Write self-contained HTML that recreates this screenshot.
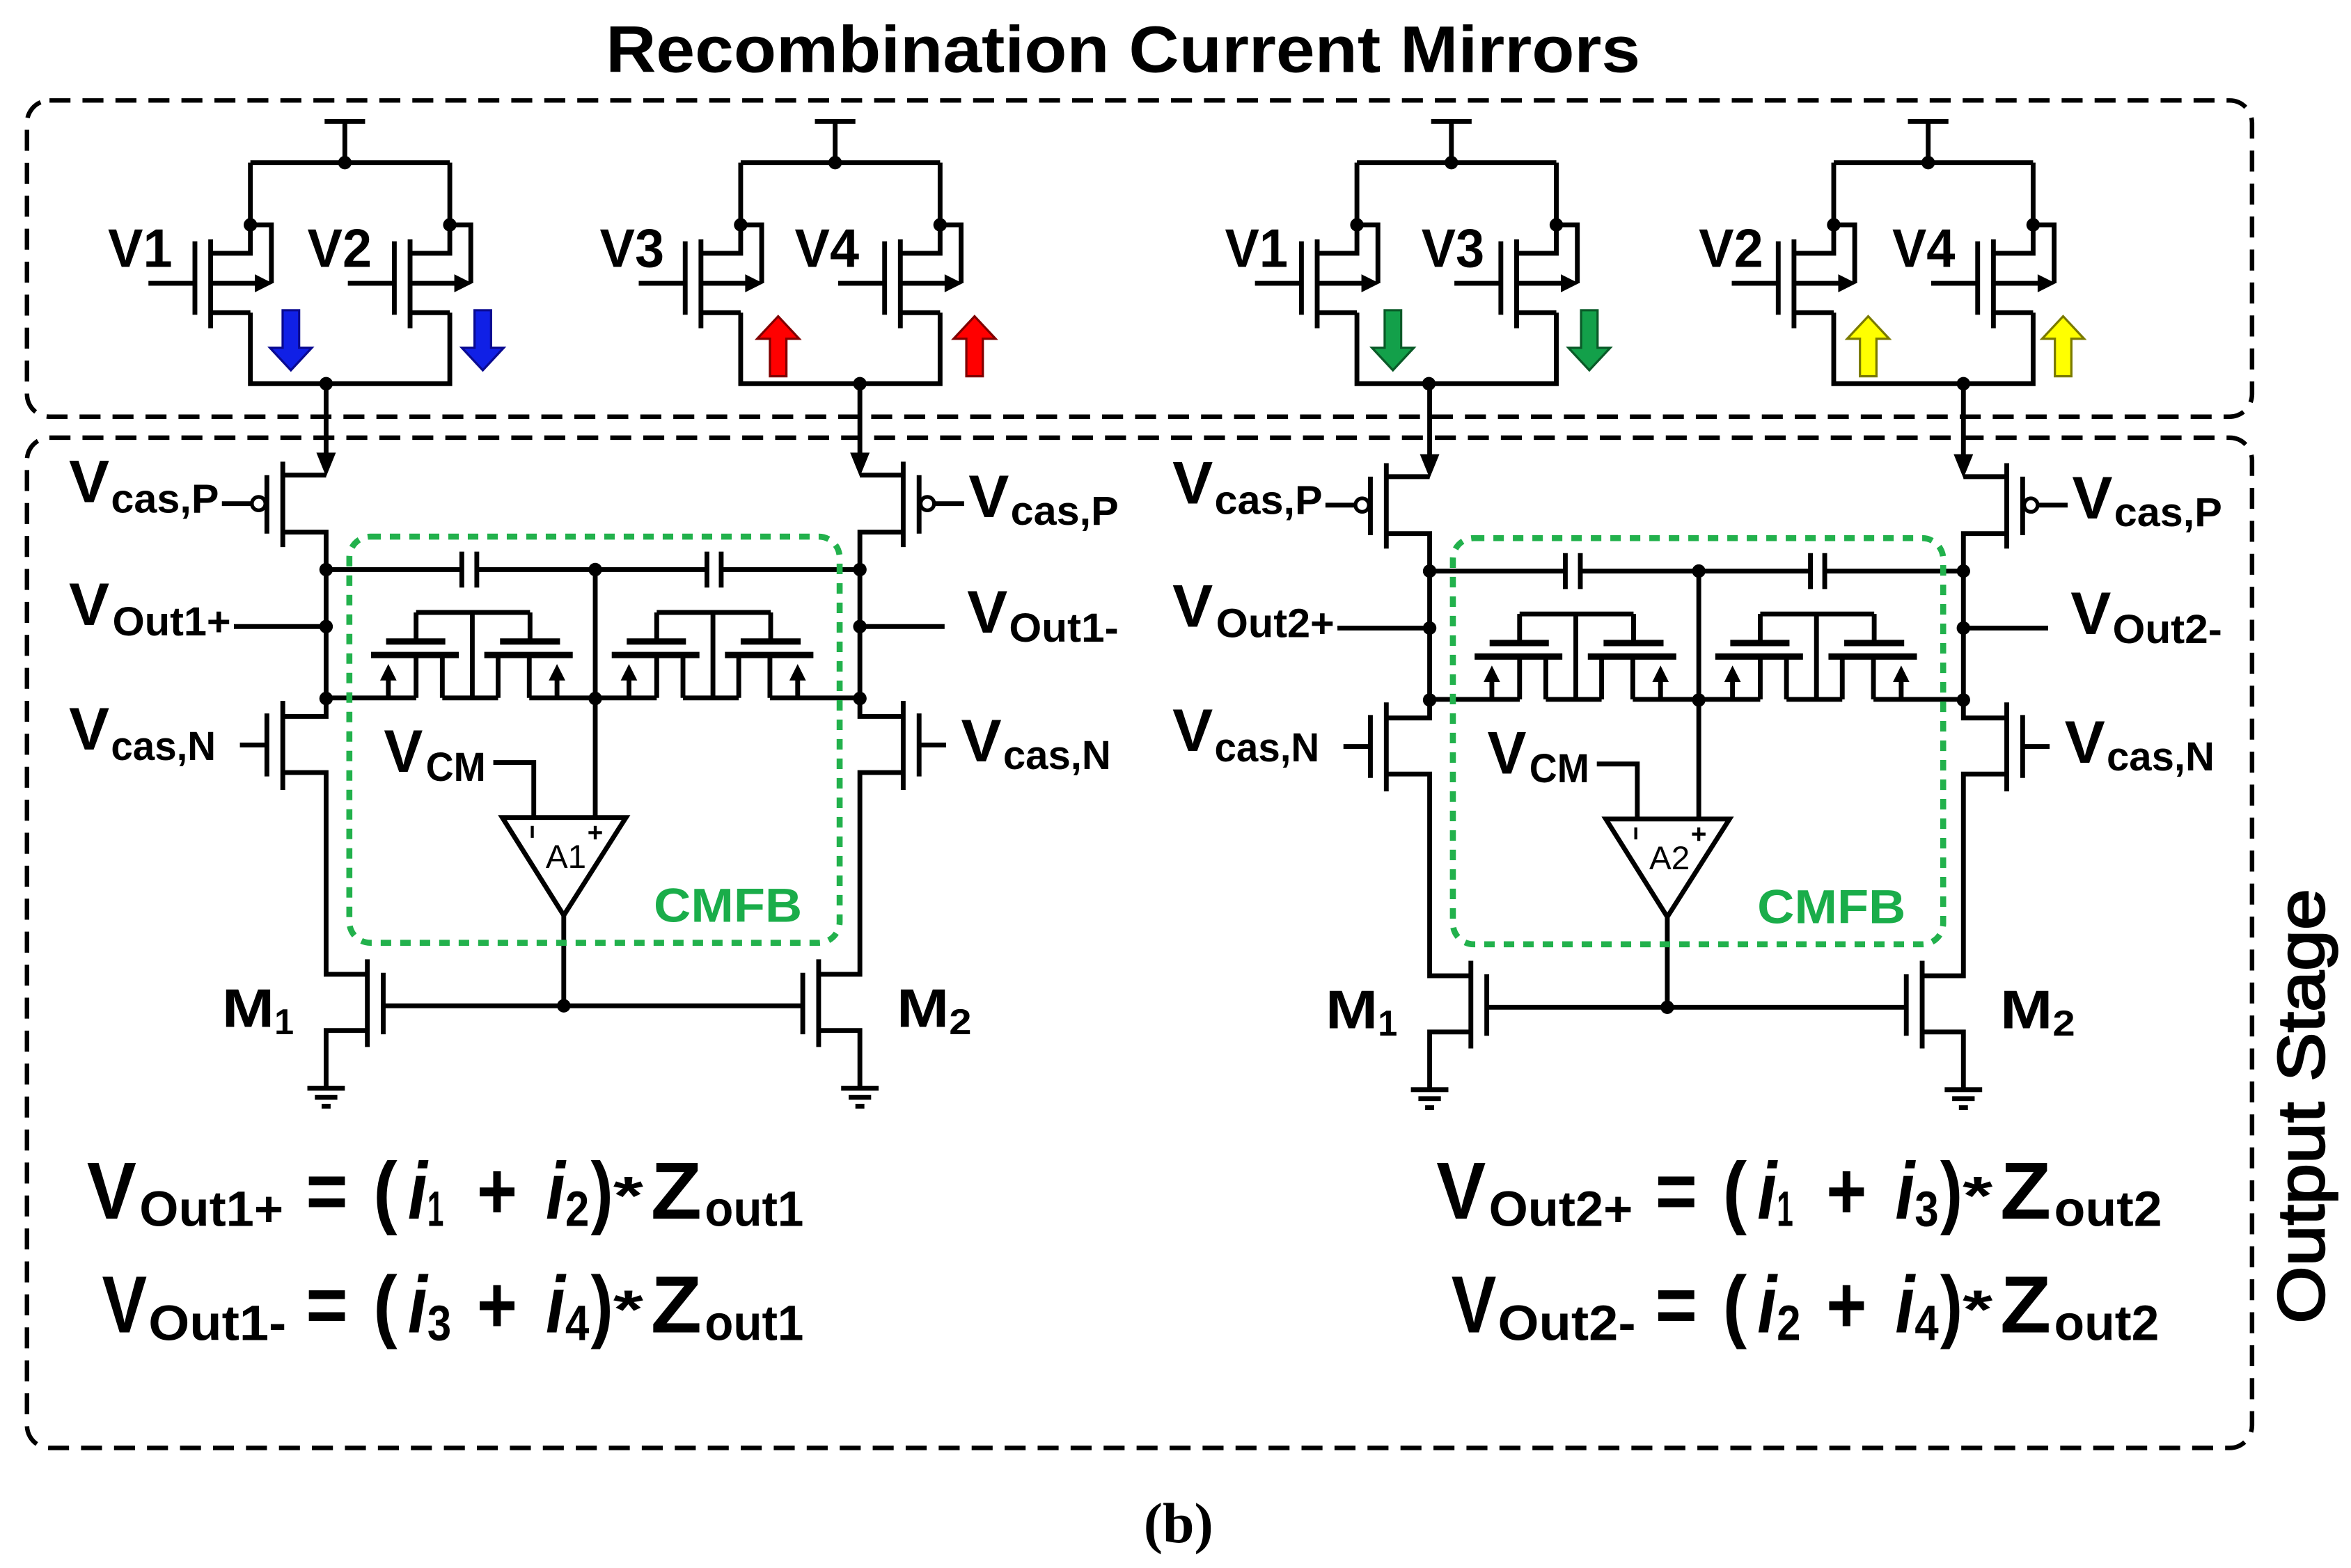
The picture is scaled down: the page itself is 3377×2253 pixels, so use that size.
<!DOCTYPE html>
<html><head><meta charset="utf-8"><style>
html,body{margin:0;padding:0;background:#fff;}
svg{display:block;}
text{font-family:"Liberation Sans",sans-serif;font-weight:bold;fill:#000;}
</style></head><body>
<svg xmlns="http://www.w3.org/2000/svg" width="3377" height="2253" viewBox="0 0 1568 1046.1" preserveAspectRatio="none">
<defs>
<g id="tr">
 <path d="M0,150 V169 H-26.5 M-26.5,159.7 V219 M-37,161 V210 M-68,189 H-37 M-26.5,208.6 H0 M0,150 H14 V189 M-26.5,189 H4" fill="none" stroke="#000" stroke-width="3.2"/>
 <polygon points="15,189 3,183 3,195" fill="#000"/>
 <circle cx="0" cy="150" r="4.5" fill="#000"/>
</g>
<g id="mir">
 <path d="M0,108.5 H133 M0,108.5 V150 M133,108.5 V150 M0,208.6 V256 H133 V208.6 M63,108.5 V81 M49.5,81 H76.5" fill="none" stroke="#000" stroke-width="3.2"/>
 <use href="#tr"/>
 <use href="#tr" transform="translate(133,0)"/>
 <circle cx="63" cy="108.5" r="4.5" fill="#000"/>
</g>
<polygon id="adn" points="-5.5,207 5.5,207 5.5,232 14,232 0,247 -14,232 -5.5,232" stroke-width="1.5"/>
<polygon id="aup" points="-5.5,251 5.5,251 5.5,226 14,226 0,211 -14,226 -5.5,226" stroke-width="1.5"/>
<g id="col">
 <path d="M217.5,256 V305 M217.5,317 H188.6 M188.6,308 V365 M178,317 V356 M148,336 H168 M188.6,355 H217.5 V478 H188.6 M188.6,467.6 V527 M178,476 V518 M160,497 H178 M188.6,515.4 H217.5 V650 H245 M245,640 V698.5 M255.6,649 V690 M245,687.5 H217.5 V726 M205,726 H230 M210,732 H225 M214.5,738 H220.5" fill="none" stroke="#000" stroke-width="3.2"/>
 <polygon points="217.5,318 211,302 224,302" fill="#000"/>
 <circle cx="172.5" cy="336" r="4.5" fill="#fff" stroke="#000" stroke-width="2.5"/>
 <circle cx="217.5" cy="380" r="4.5"/><circle cx="217.5" cy="418" r="4.5"/><circle cx="217.5" cy="466" r="4.5"/>
</g>
<g id="pair">
 <path d="M30,408.6 H106 M67.5,408.6 V465.6 M30,408.6 V428 M106,408.6 V428 M30,437 V465.6 M47.5,437 V465.6 M84.7,437 V465.6 M105.5,437 V465.6 M47.5,465.6 H84.7 M11.5,465.6 V452 M124,465.6 V452" fill="none" stroke="#000" stroke-width="3.2"/>
 <path d="M10,428 H49.5 M86,428 H126 M0,437 H58.5 M75.5,437 H134.5" fill="none" stroke="#000" stroke-width="4.2"/>
 <polygon points="11.5,443 6,454 17,454" fill="#000"/>
 <polygon points="124,443 118.5,454 129.5,454" fill="#000"/>
</g>
<g id="stage">
 <use href="#col"/>
 <use href="#col" transform="translate(791,0) scale(-1,1)"/>
 <path d="M255.6,671 H535.4 M217.5,380 H308 M318,380 H471.5 M481,380 H573.5 M308,368 V392 M318,368 V392 M471.5,368 V392 M481,368 V392 M156,418 H217.5 M573.5,418 H630 M397,380 V545.4 M329,508.7 H356 V545.4 M376,610.7 V671 M217.5,465.6 H277.6 M353,465.6 H438 M513.5,465.6 H573.5" fill="none" stroke="#000" stroke-width="3.2"/>
 <use href="#pair" transform="translate(247.5,0)"/>
 <use href="#pair" transform="translate(408,0)"/>
 <polygon points="335,545.4 417.5,545.4 376,610.7" fill="#fff" stroke="#000" stroke-width="3.2"/>
 <path d="M355,551 V559 M397,551 V560 M392.5,555.5 H401.5" stroke="#000" stroke-width="2"/>
 <circle cx="397" cy="380" r="4.5"/><circle cx="397" cy="466" r="4.5"/><circle cx="376" cy="671" r="4.5"/>
 <rect x="233" y="358" width="327" height="271" rx="14" fill="none" stroke="#22b14c" stroke-width="4" stroke-dasharray="7 6"/>
</g>
</defs>

<!-- boxes -->
<rect x="18" y="67" width="1484" height="211" rx="15" fill="none" stroke="#000" stroke-width="3" stroke-dasharray="14 8"/>
<rect x="18" y="292" width="1484" height="674" rx="15" fill="none" stroke="#000" stroke-width="3" stroke-dasharray="14 8"/>

<text x="404" y="48" font-size="44" textLength="690" lengthAdjust="spacingAndGlyphs">Recombination Current Mirrors</text>

<!-- mirrors -->
<use href="#mir" transform="translate(167,0)"/>
<use href="#mir" transform="translate(494,0)"/>
<use href="#mir" transform="translate(905,0)"/>
<use href="#mir" transform="translate(1223,0)"/>
<circle cx="217.5" cy="256" r="4.5"/><circle cx="573.5" cy="256" r="4.5"/>
<circle cx="953" cy="256" r="4.5"/><circle cx="1309.5" cy="256" r="4.5"/>

<use href="#adn" transform="translate(194,0)" fill="#1020e6" stroke="#0a0a90"/>
<use href="#adn" transform="translate(322,0)" fill="#1020e6" stroke="#0a0a90"/>
<use href="#aup" transform="translate(519,0)" fill="#ff0000" stroke="#800000"/>
<use href="#aup" transform="translate(650,0)" fill="#ff0000" stroke="#800000"/>
<use href="#adn" transform="translate(929,0)" fill="#13a04a" stroke="#0a5a28"/>
<use href="#adn" transform="translate(1060,0)" fill="#13a04a" stroke="#0a5a28"/>
<use href="#aup" transform="translate(1246,0)" fill="#ffff00" stroke="#7a7a00"/>
<use href="#aup" transform="translate(1376,0)" fill="#ffff00" stroke="#7a7a00"/>

<g font-size="36">
<text x="72" y="178" textLength="43" lengthAdjust="spacingAndGlyphs">V1</text>
<text x="205" y="178" textLength="43" lengthAdjust="spacingAndGlyphs">V2</text>
<text x="400" y="178" textLength="43" lengthAdjust="spacingAndGlyphs">V3</text>
<text x="530" y="178" textLength="43" lengthAdjust="spacingAndGlyphs">V4</text>
<text x="817" y="178" textLength="42" lengthAdjust="spacingAndGlyphs">V1</text>
<text x="948" y="178" textLength="42" lengthAdjust="spacingAndGlyphs">V3</text>
<text x="1133" y="178" textLength="43" lengthAdjust="spacingAndGlyphs">V2</text>
<text x="1262" y="178" textLength="42" lengthAdjust="spacingAndGlyphs">V4</text>
</g>

<!-- stages -->
<use href="#stage"/>
<use href="#stage" transform="translate(736,1)"/>

<!-- stage 1 labels -->
<g>
<text x="46" y="335" font-size="40" textLength="27" lengthAdjust="spacingAndGlyphs">V</text>
<text x="74" y="342" font-size="27" textLength="72" lengthAdjust="spacingAndGlyphs">cas,P</text>
<text x="46" y="417" font-size="40" textLength="27" lengthAdjust="spacingAndGlyphs">V</text>
<text x="75" y="424" font-size="27" textLength="79" lengthAdjust="spacingAndGlyphs">Out1+</text>
<text x="46" y="500" font-size="40" textLength="27" lengthAdjust="spacingAndGlyphs">V</text>
<text x="74" y="507" font-size="27" textLength="70" lengthAdjust="spacingAndGlyphs">cas,N</text>
<text x="256" y="515" font-size="40" textLength="26" lengthAdjust="spacingAndGlyphs">V</text>
<text x="284" y="521" font-size="27" textLength="40" lengthAdjust="spacingAndGlyphs">CM</text>
<text x="646" y="345" font-size="40" textLength="27" lengthAdjust="spacingAndGlyphs">V</text>
<text x="674" y="350" font-size="27" textLength="72" lengthAdjust="spacingAndGlyphs">cas,P</text>
<text x="645" y="422" font-size="40" textLength="27" lengthAdjust="spacingAndGlyphs">V</text>
<text x="673" y="428" font-size="27" textLength="73" lengthAdjust="spacingAndGlyphs">Out1-</text>
<text x="641" y="508" font-size="40" textLength="27" lengthAdjust="spacingAndGlyphs">V</text>
<text x="669" y="513" font-size="27" textLength="72" lengthAdjust="spacingAndGlyphs">cas,N</text>
<text x="148" y="685" font-size="36" textLength="35" lengthAdjust="spacingAndGlyphs">M</text>
<text x="183" y="690" font-size="24" textLength="13" lengthAdjust="spacingAndGlyphs">1</text>
<text x="598" y="685" font-size="36" textLength="35" lengthAdjust="spacingAndGlyphs">M</text>
<text x="633" y="690" font-size="24" textLength="15" lengthAdjust="spacingAndGlyphs">2</text>
<text x="436" y="615" font-size="32" textLength="99" lengthAdjust="spacingAndGlyphs" style="fill:#1aad4a">CMFB</text>
<text x="364" y="579" font-size="22" textLength="27" lengthAdjust="spacingAndGlyphs" style="font-weight:normal">A1</text>
</g>
<!-- stage 2 labels -->
<g transform="translate(736,1)">
<text x="46" y="335" font-size="40" textLength="27" lengthAdjust="spacingAndGlyphs">V</text>
<text x="74" y="342" font-size="27" textLength="72" lengthAdjust="spacingAndGlyphs">cas,P</text>
<text x="46" y="417" font-size="40" textLength="27" lengthAdjust="spacingAndGlyphs">V</text>
<text x="75" y="424" font-size="27" textLength="79" lengthAdjust="spacingAndGlyphs">Out2+</text>
<text x="46" y="500" font-size="40" textLength="27" lengthAdjust="spacingAndGlyphs">V</text>
<text x="74" y="507" font-size="27" textLength="70" lengthAdjust="spacingAndGlyphs">cas,N</text>
<text x="256" y="515" font-size="40" textLength="26" lengthAdjust="spacingAndGlyphs">V</text>
<text x="284" y="521" font-size="27" textLength="40" lengthAdjust="spacingAndGlyphs">CM</text>
<text x="646" y="345" font-size="40" textLength="27" lengthAdjust="spacingAndGlyphs">V</text>
<text x="674" y="350" font-size="27" textLength="72" lengthAdjust="spacingAndGlyphs">cas,P</text>
<text x="645" y="422" font-size="40" textLength="27" lengthAdjust="spacingAndGlyphs">V</text>
<text x="673" y="428" font-size="27" textLength="73" lengthAdjust="spacingAndGlyphs">Out2-</text>
<text x="641" y="508" font-size="40" textLength="27" lengthAdjust="spacingAndGlyphs">V</text>
<text x="669" y="513" font-size="27" textLength="72" lengthAdjust="spacingAndGlyphs">cas,N</text>
<text x="148" y="685" font-size="36" textLength="35" lengthAdjust="spacingAndGlyphs">M</text>
<text x="183" y="690" font-size="24" textLength="13" lengthAdjust="spacingAndGlyphs">1</text>
<text x="598" y="685" font-size="36" textLength="35" lengthAdjust="spacingAndGlyphs">M</text>
<text x="633" y="690" font-size="24" textLength="15" lengthAdjust="spacingAndGlyphs">2</text>
<text x="436" y="615" font-size="32" textLength="99" lengthAdjust="spacingAndGlyphs" style="fill:#1aad4a">CMFB</text>
<text x="364" y="579" font-size="22" textLength="27" lengthAdjust="spacingAndGlyphs" style="font-weight:normal">A2</text>
</g>

<!-- equations -->
<g id="eqL">
<text x="58" y="813" font-size="54" textLength="33" lengthAdjust="spacingAndGlyphs">V</text>
<text x="93" y="818" font-size="33" textLength="96" lengthAdjust="spacingAndGlyphs">Out1+</text>
<text x="204" y="813" font-size="54" textLength="28" lengthAdjust="spacingAndGlyphs">=</text>
<text x="249" y="813" font-size="54" textLength="16" lengthAdjust="spacingAndGlyphs">(</text>
<text x="272" y="813" font-size="54" textLength="13" lengthAdjust="spacingAndGlyphs" font-style="italic">i</text>
<text x="285" y="818" font-size="33" textLength="11" lengthAdjust="spacingAndGlyphs">1</text>
<text x="318" y="813" font-size="54" textLength="27" lengthAdjust="spacingAndGlyphs">+</text>
<text x="364" y="813" font-size="54" textLength="13" lengthAdjust="spacingAndGlyphs" font-style="italic">i</text>
<text x="377" y="818" font-size="33" textLength="16" lengthAdjust="spacingAndGlyphs">2</text>
<text x="394" y="813" font-size="54" textLength="15" lengthAdjust="spacingAndGlyphs">)</text>
<text x="409" y="810" font-size="36" textLength="20" lengthAdjust="spacingAndGlyphs">*</text>
<text x="434" y="813" font-size="54" textLength="34" lengthAdjust="spacingAndGlyphs">Z</text>
<text x="470" y="818" font-size="33" textLength="66" lengthAdjust="spacingAndGlyphs">out1</text>

<text x="68" y="889" font-size="54" textLength="30" lengthAdjust="spacingAndGlyphs">V</text>
<text x="99" y="894" font-size="33" textLength="92" lengthAdjust="spacingAndGlyphs">Out1-</text>
<text x="204" y="889" font-size="54" textLength="28" lengthAdjust="spacingAndGlyphs">=</text>
<text x="249" y="889" font-size="54" textLength="16" lengthAdjust="spacingAndGlyphs">(</text>
<text x="272" y="889" font-size="54" textLength="13" lengthAdjust="spacingAndGlyphs" font-style="italic">i</text>
<text x="285" y="894" font-size="33" textLength="16" lengthAdjust="spacingAndGlyphs">3</text>
<text x="318" y="889" font-size="54" textLength="27" lengthAdjust="spacingAndGlyphs">+</text>
<text x="364" y="889" font-size="54" textLength="13" lengthAdjust="spacingAndGlyphs" font-style="italic">i</text>
<text x="377" y="894" font-size="33" textLength="16" lengthAdjust="spacingAndGlyphs">4</text>
<text x="394" y="889" font-size="54" textLength="15" lengthAdjust="spacingAndGlyphs">)</text>
<text x="409" y="886" font-size="36" textLength="20" lengthAdjust="spacingAndGlyphs">*</text>
<text x="434" y="889" font-size="54" textLength="34" lengthAdjust="spacingAndGlyphs">Z</text>
<text x="470" y="894" font-size="33" textLength="66" lengthAdjust="spacingAndGlyphs">out1</text>
</g>
<g transform="translate(900,0)">
<text x="58" y="813" font-size="54" textLength="33" lengthAdjust="spacingAndGlyphs">V</text>
<text x="93" y="818" font-size="33" textLength="96" lengthAdjust="spacingAndGlyphs">Out2+</text>
<text x="204" y="813" font-size="54" textLength="28" lengthAdjust="spacingAndGlyphs">=</text>
<text x="249" y="813" font-size="54" textLength="16" lengthAdjust="spacingAndGlyphs">(</text>
<text x="272" y="813" font-size="54" textLength="13" lengthAdjust="spacingAndGlyphs" font-style="italic">i</text>
<text x="285" y="818" font-size="33" textLength="11" lengthAdjust="spacingAndGlyphs">1</text>
<text x="318" y="813" font-size="54" textLength="27" lengthAdjust="spacingAndGlyphs">+</text>
<text x="364" y="813" font-size="54" textLength="13" lengthAdjust="spacingAndGlyphs" font-style="italic">i</text>
<text x="377" y="818" font-size="33" textLength="16" lengthAdjust="spacingAndGlyphs">3</text>
<text x="394" y="813" font-size="54" textLength="15" lengthAdjust="spacingAndGlyphs">)</text>
<text x="409" y="810" font-size="36" textLength="20" lengthAdjust="spacingAndGlyphs">*</text>
<text x="434" y="813" font-size="54" textLength="34" lengthAdjust="spacingAndGlyphs">Z</text>
<text x="470" y="818" font-size="33" textLength="72" lengthAdjust="spacingAndGlyphs">out2</text>

<text x="68" y="889" font-size="54" textLength="30" lengthAdjust="spacingAndGlyphs">V</text>
<text x="99" y="894" font-size="33" textLength="92" lengthAdjust="spacingAndGlyphs">Out2-</text>
<text x="204" y="889" font-size="54" textLength="28" lengthAdjust="spacingAndGlyphs">=</text>
<text x="249" y="889" font-size="54" textLength="16" lengthAdjust="spacingAndGlyphs">(</text>
<text x="272" y="889" font-size="54" textLength="13" lengthAdjust="spacingAndGlyphs" font-style="italic">i</text>
<text x="285" y="894" font-size="33" textLength="16" lengthAdjust="spacingAndGlyphs">2</text>
<text x="318" y="889" font-size="54" textLength="27" lengthAdjust="spacingAndGlyphs">+</text>
<text x="364" y="889" font-size="54" textLength="13" lengthAdjust="spacingAndGlyphs" font-style="italic">i</text>
<text x="377" y="894" font-size="33" textLength="16" lengthAdjust="spacingAndGlyphs">4</text>
<text x="394" y="889" font-size="54" textLength="15" lengthAdjust="spacingAndGlyphs">)</text>
<text x="409" y="886" font-size="36" textLength="20" lengthAdjust="spacingAndGlyphs">*</text>
<text x="434" y="889" font-size="54" textLength="34" lengthAdjust="spacingAndGlyphs">Z</text>
<text x="470" y="894" font-size="33" textLength="70" lengthAdjust="spacingAndGlyphs">out2</text>
</g>

<text transform="translate(1550,738) rotate(-90)" text-anchor="middle" font-size="44" textLength="290" lengthAdjust="spacingAndGlyphs" style="font-weight:normal;stroke:#000;stroke-width:1.2">Output Stage</text>

<text x="786" y="1029" text-anchor="middle" font-size="38" style="font-family:'Liberation Serif',serif">(b)</text>
</svg>
</body></html>
